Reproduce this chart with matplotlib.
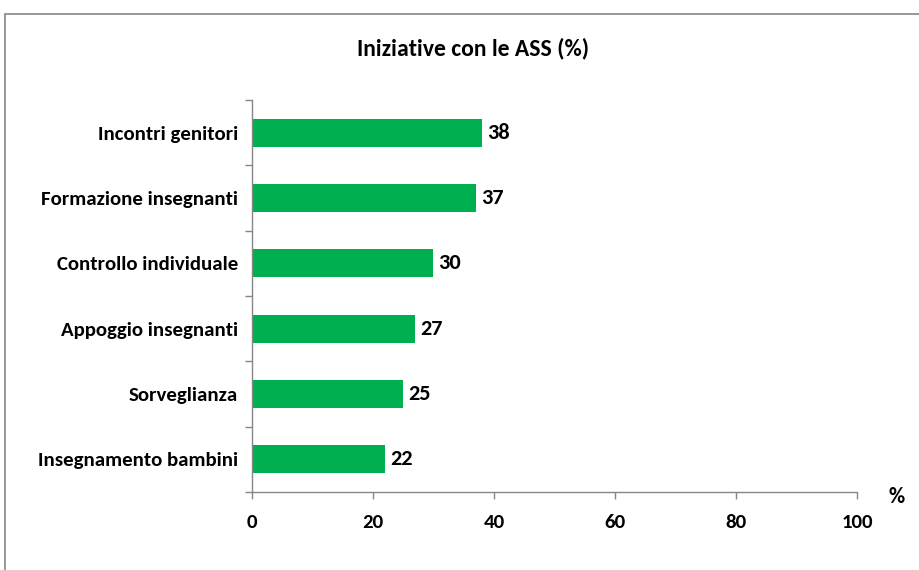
import matplotlib
matplotlib.use("Agg")
import matplotlib.pyplot as plt
from matplotlib.patches import Rectangle
from matplotlib import font_manager

categories = ["Incontri genitori", "Formazione insegnanti", "Controllo individuale",
              "Appoggio insegnanti", "Sorveglianza", "Insegnamento bambini"]
values = [38, 37, 30, 27, 25, 22]
xticks = [0, 20, 40, 60, 80, 100]
title = "Iniziative con le ASS (%)"

avail = {f.name for f in font_manager.fontManager.ttflist}
fams = [f for f in ["Carlito", "Liberation Sans Narrow", "Open Sans", "DejaVu Sans"] if f in avail]
plt.rcParams['font.family'] = fams
plt.rcParams['font.weight'] = 'bold'

fig = plt.figure(figsize=(9.2, 5.7), dpi=100)
ax = fig.add_axes([252/920, 1-492/570, 605/920, 392/570])

n = len(categories)
ypos = list(range(n))[::-1]
ax.barh(ypos, values, height=0.43, color="#00B050", zorder=2)
for y, v in zip(ypos, values):
    ax.text(v + 0.8, y, f"{v}", va="center", ha="left", fontsize=16, fontweight="bold", color="black")

ax.set_xlim(0, 100)
ax.set_ylim(-0.5, n - 0.5)
ax.set_xticks(xticks)
ax.set_xticklabels([str(t) for t in xticks], fontsize=15, fontweight="bold")
ax.set_yticks(ypos)
ax.set_yticklabels(categories, fontsize=15, fontweight="bold")
ax.set_yticks([i - 0.5 for i in range(n + 1)], minor=True)
ax.tick_params(axis="y", which="major", length=0, pad=10)
ax.tick_params(axis="y", which="minor", length=5, color="#868686", width=1)
ax.tick_params(axis="x", which="major", length=5, color="#868686", width=1, pad=11)

for s in ["top", "right"]:
    ax.spines[s].set_visible(False)
for s in ["left", "bottom"]:
    ax.spines[s].set_color("#868686")
    ax.spines[s].set_linewidth(1)

fig.text(473/920, 1-48/570, title, ha="center", va="center", fontsize=17, fontweight="bold")
fig.text(897/920, 1-497/570, "%", ha="center", va="center", fontsize=16, fontweight="bold")

fig.patches.append(Rectangle((5/920, -0.1), 1.2, 1 - 14/570 + 0.1, transform=fig.transFigure,
                             fill=False, edgecolor="#868686", linewidth=1.2))

fig.savefig("out.png", dpi=100)
